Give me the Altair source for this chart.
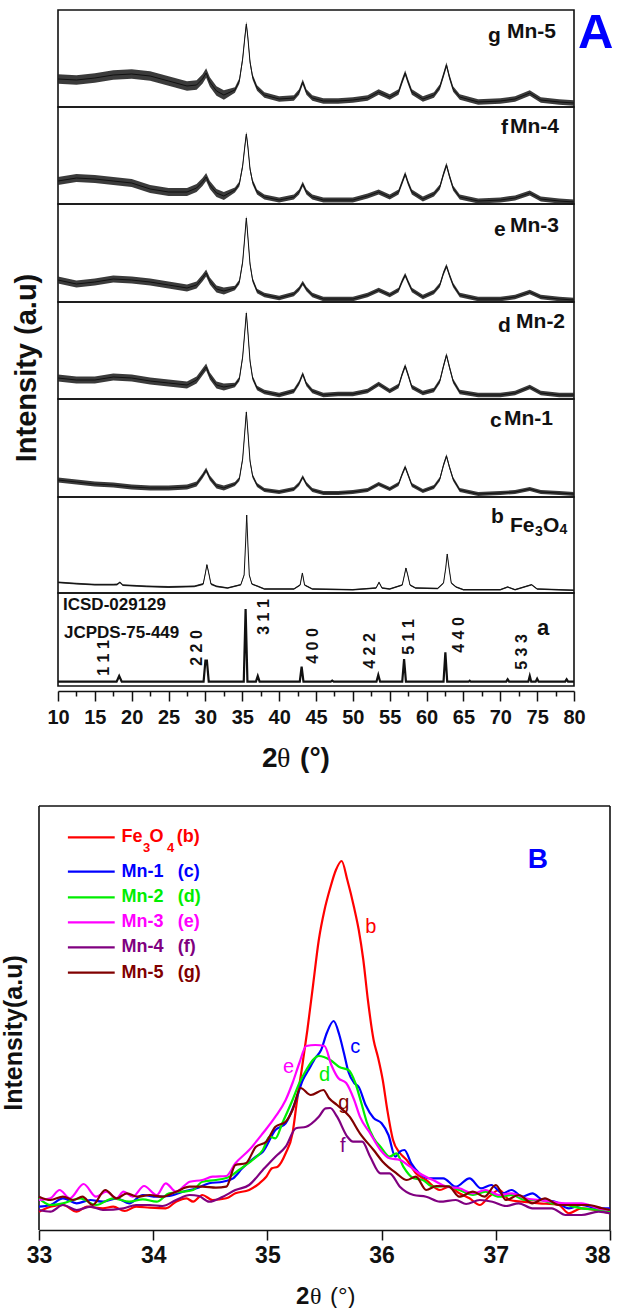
import altair as alt
import pandas as pd

SANS = "Liberation Sans"
SERIF = "Liberation Serif"
INK = "#111111"

# ---------------------------------------------------------------------------
# Panel A: stacked XRD patterns, 2θ = 10–80°, intensities in panel units
# ---------------------------------------------------------------------------
two_theta = [10, 12.5, 15, 17.5, 20, 22.5, 25, 27.5, 28.8, 29.6, 30.1, 30.6,
             31.5, 32.5, 34, 34.6, 35.05, 35.35, 35.55, 35.75, 36.05, 36.4,
             37, 38, 40, 42, 42.7, 43.2, 43.7, 44.5, 46, 48, 50, 52, 53.5, 55,
             56.2, 56.7, 57.1, 57.5, 58, 59.5, 61, 61.8, 62.3, 62.7, 63.1,
             63.6, 64.5, 67, 70, 72, 74, 75.5, 78, 80]

mn5_xrd = [28, 27, 29, 32, 33, 31, 26, 21, 22, 28, 34, 25, 16, 12, 17, 26,
           48, 70, 83, 70, 45, 30, 19, 12, 8, 9, 15, 25, 15, 9, 6, 6, 7, 9,
           15, 10, 15, 26, 34, 25, 15, 8, 12, 20, 32, 42, 30, 18, 10, 5, 6,
           8, 14, 7, 5, 4]
mn4_xrd = [23, 26, 25, 23, 21, 15, 12, 12, 16, 22, 27, 19, 11, 8, 14, 20,
           38, 58, 70, 58, 35, 22, 12, 7, 4, 7, 12, 20, 12, 7, 4, 4, 4, 8,
           12, 7, 12, 22, 30, 21, 12, 5, 10, 17, 30, 39, 28, 16, 7, 3, 4, 6,
           11, 5, 3, 2]
mn3_xrd = [22, 18, 20, 23, 22, 20, 17, 14, 17, 24, 29, 21, 13, 11, 14, 20,
           40, 66, 84, 66, 38, 22, 11, 7, 4, 8, 13, 19, 13, 7, 3, 3, 3, 7,
           12, 7, 12, 21, 27, 20, 12, 5, 10, 17, 29, 36, 27, 17, 7, 3, 3, 5,
           10, 5, 3, 2]
mn2_xrd = [21, 19, 19, 22, 21, 18, 16, 14, 19, 27, 32, 23, 14, 12, 14, 20,
           42, 68, 86, 68, 38, 21, 11, 7, 4, 8, 16, 25, 15, 8, 4, 5, 5, 8,
           15, 8, 13, 25, 33, 24, 12, 6, 9, 18, 33, 44, 32, 18, 7, 4, 4, 6,
           12, 6, 4, 4]
mn1_xrd = [17, 15, 13, 12, 10, 9, 9, 10, 13, 21, 27, 19, 11, 9, 13, 18, 38,
           66, 85, 66, 36, 21, 12, 7, 5, 8, 13, 20, 13, 7, 4, 4, 5, 7, 13, 8,
           13, 23, 30, 22, 12, 6, 10, 18, 32, 41, 30, 18, 7, 3, 4, 5, 8, 5,
           4, 3]

fe3o4_xrd = [(10, 10.7), (12.5, 9.3), (15, 8.3), (17.5, 8.3), (18.0, 8.5),
             (18.4, 10.7), (18.8, 7.8), (22, 6.7), (25, 6), (28.5, 6.7),
             (29.7, 9), (30.0, 20), (30.2, 28.3), (30.45, 20), (30.75, 9),
             (31.5, 6.7), (33, 5), (34.8, 8.3), (35.25, 18), (35.45, 50),
             (35.6, 78), (35.75, 50), (35.95, 18), (36.3, 9), (37.1, 6.7),
             (38, 4), (42, 4), (42.85, 8), (43.15, 20), (43.45, 8), (44.5, 4),
             (50, 3.3), (53.15, 5), (53.55, 10.7), (53.95, 5), (55, 4),
             (56.7, 8), (57.0, 18), (57.2, 25), (57.45, 18), (57.75, 8),
             (58.5, 5), (61.5, 4.5), (62.3, 10), (62.6, 25), (62.8, 39),
             (63.05, 25), (63.35, 10), (64, 6), (65, 3.3), (70, 3.3), (71, 6),
             (72, 3.3), (74.25, 8.3), (75, 4), (80, 2.7)]

icsd_ref = [(10, 4.3), (17.95, 4.3), (18.3, 10), (18.65, 4.3), (29.75, 4.3),
            (30.0, 25.3), (30.2, 25.3), (30.45, 4.3), (35.2, 4.3),
            (35.45, 77), (35.7, 4.3), (36.85, 4.3), (37.1, 10), (37.35, 4.3),
            (42.8, 4.3), (43.05, 19.3), (43.3, 4.3), (47.0, 4.3), (47.2, 5.3),
            (47.4, 4.3), (53.2, 4.3), (53.45, 11), (53.7, 4.3), (56.7, 4.3),
            (56.95, 27), (57.2, 4.3), (62.3, 4.3), (62.55, 33.7), (62.8, 4.3),
            (65.7, 4.3), (65.85, 5.3), (66.0, 4.3), (70.8, 4.3), (71.0, 6.7),
            (71.2, 4.3), (73.8, 4.3), (74.0, 10), (74.2, 4.3), (74.8, 4.3),
            (75.0, 7.3), (75.2, 4.3), (78.8, 4.3), (79.0, 6.7), (79.2, 4.3),
            (80, 4.3)]

# half-width of the counting-noise band: (below 33°, above 33°)
mn5_noise = (4.8, 2.8)
mn4_noise = (4.0, 2.6)
mn3_noise = (3.4, 2.3)
mn2_noise = (3.4, 2.3)
mn1_noise = (2.6, 1.9)
fe3o4_noise = (0.9, 0.7)

hkl_text = ["1 1 1", "2 2 0", "3 1 1", "4 0 0", "4 2 2", "5 1 1", "4 4 0", "5 3 3"]

# ---------------------------------------------------------------------------
# Panel B: enlarged (311) reflection, 2θ = 33–38°
# ---------------------------------------------------------------------------
fe3o4_311 = [(33.0, 18.3), (33.1, 23.3), (33.21, 25), (33.33, 18.3), (33.42, 23.3),
             (33.56, 21.7), (33.65, 23.3), (33.75, 19), (33.85, 23.3), (33.97, 22.3),
             (34.11, 21.7), (34.2, 28.3), (34.29, 31.7), (34.35, 28.3), (34.43, 35),
             (34.52, 30), (34.64, 31.7), (34.72, 36.7), (34.84, 40), (34.93, 46.7),
             (34.99, 53.3), (35.04, 61.7), (35.09, 63.3), (35.16, 76.7), (35.22, 96.7),
             (35.26, 130), (35.30, 160), (35.35, 200), (35.40, 245), (35.45, 290),
             (35.50, 320), (35.55, 342), (35.60, 360), (35.65, 369), (35.70, 350),
             (35.76, 322), (35.80, 300), (35.84, 270), (35.88, 230), (35.93, 190),
             (35.97, 172), (36.01, 150), (36.05, 120), (36.10, 90), (36.16, 77),
             (36.22, 70), (36.30, 56.7), (36.39, 50), (36.51, 40), (36.59, 43.3),
             (36.68, 36.7), (36.77, 31.7), (36.86, 25), (36.94, 33.3), (37.03, 40),
             (37.12, 30), (37.23, 28.3), (37.38, 26.7), (37.55, 25), (37.64, 16.7),
             (37.75, 21.7), (37.87, 20), (38.0, 16.7)]
mn1_311 = [(33.0, 23.3), (33.1, 25), (33.21, 31.7), (33.33, 26.7), (33.45, 30),
           (33.56, 28.3), (33.68, 31.7), (33.79, 26.7), (33.91, 35), (34.03, 33.3),
           (34.14, 34), (34.26, 38.3), (34.38, 41.7), (34.49, 46.7), (34.61, 48.3),
           (34.70, 51.7), (34.78, 61.7), (34.9, 73.3), (34.96, 78.3), (35.07, 100),
           (35.16, 106.7), (35.25, 130), (35.31, 150), (35.36, 160), (35.42, 172),
           (35.47, 180), (35.52, 197), (35.58, 209), (35.63, 195), (35.67, 177),
           (35.71, 158), (35.76, 147), (35.8, 143), (35.86, 125), (35.93, 112),
           (36.0, 106.7), (36.06, 95), (36.12, 73.3), (36.16, 78.3), (36.2, 80),
           (36.26, 66.7), (36.33, 56.7), (36.42, 51.7), (36.54, 51.7), (36.65, 43.3),
           (36.77, 51.7), (36.87, 41.7), (36.96, 45), (37.06, 36.7), (37.14, 40),
           (37.23, 33.3), (37.32, 36.7), (37.41, 30), (37.52, 28.3), (37.64, 21.7),
           (37.75, 25), (37.9, 21.7), (38.0, 21.7)]
mn2_311 = [(33.0, 31.7), (33.1, 25), (33.21, 26.7), (33.36, 31.7), (33.5, 25),
           (33.65, 31.7), (33.79, 28.3), (33.91, 30.7), (34.03, 28.3), (34.14, 36.7),
           (34.26, 38.3), (34.35, 40), (34.43, 48.3), (34.55, 50), (34.67, 53.3),
           (34.75, 60), (34.87, 70), (34.96, 80), (35.02, 93.3), (35.07, 91.7),
           (35.13, 106.7), (35.22, 130), (35.28, 147), (35.34, 160), (35.45, 174),
           (35.55, 170), (35.63, 163), (35.71, 160), (35.77, 147), (35.82, 128),
           (35.87, 108), (35.93, 92), (35.99, 83.3), (36.07, 73.3), (36.13, 76.7),
           (36.19, 63.3), (36.28, 51.7), (36.36, 50), (36.45, 43.3), (36.57, 44),
           (36.68, 40), (36.8, 35), (36.91, 38.3), (37.03, 33.3), (37.14, 35),
           (37.26, 30), (37.38, 30), (37.49, 26.7), (37.61, 25), (37.75, 21.7),
           (37.9, 20), (38.0, 18.3)]
mn3_311 = [(33.0, 30), (33.1, 31.7), (33.18, 40), (33.27, 31.7), (33.39, 46),
           (33.5, 33.3), (33.59, 38.3), (33.68, 31.7), (33.74, 38.3), (33.82, 33.3),
           (33.92, 44), (34.03, 35), (34.11, 46.7), (34.2, 38.3), (34.32, 48.3),
           (34.43, 50), (34.52, 53.3), (34.64, 54), (34.72, 66.7), (34.84, 80),
           (34.96, 96.7), (35.07, 113.3), (35.16, 130), (35.22, 147), (35.28, 167),
           (35.34, 184), (35.42, 185), (35.5, 184), (35.56, 165), (35.62, 152),
           (35.69, 147), (35.76, 130), (35.81, 113.3), (35.9, 96.7), (35.99, 80),
           (36.07, 71.7), (36.16, 70), (36.25, 63.3), (36.33, 56.7), (36.45, 50),
           (36.57, 43.3), (36.68, 41.7), (36.8, 36.7), (36.91, 40), (37.03, 35),
           (37.14, 36.7), (37.26, 31.7), (37.38, 30), (37.49, 28.3), (37.61, 26.7),
           (37.75, 26.7), (37.9, 21.7), (38.0, 20)]
mn4_311 = [(33.0, 20), (33.1, 18.3), (33.21, 25), (33.33, 20), (33.45, 23.3),
           (33.56, 20), (33.74, 21.7), (33.85, 25), (33.97, 25), (34.08, 24),
           (34.2, 30), (34.32, 35), (34.4, 34), (34.49, 28.3), (34.61, 33.3),
           (34.72, 40), (34.84, 45), (34.96, 60), (35.07, 73.3), (35.16, 83.3),
           (35.25, 101.7), (35.34, 103.3), (35.45, 113.3), (35.51, 121.7),
           (35.55, 122), (35.61, 113.3), (35.70, 93.3), (35.75, 88.3), (35.83, 88.3),
           (35.9, 73.3), (35.99, 56.7), (36.07, 56.7), (36.16, 43.3), (36.28, 35),
           (36.39, 33.3), (36.51, 28.3), (36.65, 30), (36.74, 26), (36.86, 30),
           (36.97, 28.3), (37.09, 24), (37.2, 26.7), (37.32, 21.7), (37.49, 21.7),
           (37.61, 15), (37.75, 15), (37.9, 18.3), (38.0, 16.7)]
mn5_311 = [(33.0, 33.3), (33.1, 30), (33.21, 33.3), (33.3, 30), (33.38, 33.3),
           (33.47, 25), (33.58, 40), (33.68, 31.7), (33.77, 36.7), (33.86, 33.3),
           (33.97, 35), (34.08, 33.3), (34.2, 38.3), (34.32, 43.3), (34.43, 43.3),
           (34.55, 42.3), (34.64, 43.3), (34.72, 65), (34.81, 66.7), (34.9, 83.3),
           (34.99, 88.3), (35.07, 103.3), (35.16, 108.3), (35.22, 120), (35.29, 142),
           (35.38, 135), (35.49, 140), (35.54, 131.7), (35.61, 125), (35.72, 113.3),
           (35.81, 96.7), (35.93, 80), (36.01, 68.3), (36.13, 56.7), (36.22, 50),
           (36.3, 53.3), (36.39, 40), (36.48, 44), (36.59, 43.3), (36.68, 33.3),
           (36.8, 38.3), (36.9, 33.3), (37.0, 45), (37.09, 30), (37.2, 35),
           (37.32, 26.7), (37.43, 31.7), (37.55, 25), (37.67, 25), (37.81, 25),
           (37.93, 21.7), (38.0, 20)]

series_names = ["Fe3O4 (b)", "Mn-1 (c)", "Mn-2 (d)", "Mn-3 (e)", "Mn-4 (f)", "Mn-5 (g)"]
series_colors = ["#FF0000", "#0000FF", "#00EE00", "#FF00FF", "#800080", "#800000"]
curve_letters = ["b", "c", "d", "e", "f", "g"]

# ---------------------------------------------------------------------------
# layout constants (pixels)
# ---------------------------------------------------------------------------
PAGE_W, PAGE_H = 617, 1308
A_W = 516
A_HEIGHTS = [97, 97, 98, 97, 98, 96, 93]      # g, f, e, d, c, b, a
B_W, B_H = 552, 424
LEFT_GUTTER, TOP_GUTTER, GAP_AB = 58, 10, 120

A_XSCALE = alt.Scale(domain=[10, 80], nice=False, zero=False)
B_XSCALE = alt.Scale(domain=[33, 38], range=[-19, B_W], nice=False, zero=False)
NO_FRAME = alt.ViewBackground(strokeOpacity=0)


def yscale(h):
    return alt.Scale(domain=[0, h], nice=False, zero=False)


def spacer_mark():
    """Invisible tiny rule, used to give the gap cell something to draw."""
    return alt.Chart(pd.DataFrame({"k": [0]})).mark_rule(
        strokeOpacity=0, strokeWidth=0.1).encode(
        x=alt.value(0), x2=alt.value(0.5), y=alt.value(0), y2=alt.value(0.5))


def texts(rows, X, ys, **mark):
    df = pd.DataFrame(rows, columns=["x", "h", "t", "size"])
    style = dict(align="left", baseline="alphabetic", font=SANS,
                 fontWeight="bold", color=INK)
    style.update(mark)
    return alt.Chart(df).mark_text(**style).encode(
        x=X, y=alt.Y("h:Q", scale=ys, axis=None), text="t:N",
        size=alt.Size("size:Q", scale=None, legend=None))


def noisy_pattern(xs, hs, noise, tags, height, extra=None):
    lo_side, hi_side = noise
    half = [lo_side if x < 33 else hi_side for x in xs]
    df = pd.DataFrame({"x": xs, "h": hs,
                       "lo": [h - s for h, s in zip(hs, half)],
                       "hi": [h + s for h, s in zip(hs, half)]})
    X = alt.X("x:Q", scale=A_XSCALE, axis=None)
    ys = yscale(height)
    base = alt.Chart(df)
    band = base.mark_area(color="#262626", opacity=0.9).encode(
        x=X, y=alt.Y("lo:Q", scale=ys, axis=None), y2="hi:Q")
    line = base.mark_line(color=INK, strokeWidth=1.0).encode(
        x=X, y=alt.Y("h:Q", scale=ys, axis=None))
    layers = [band, line, texts(tags, X, ys)]
    if extra:
        layers += extra(X, ys)
    return alt.layer(*layers).properties(width=A_W, height=height)


def split(pairs):
    return [p[0] for p in pairs], [p[1] for p in pairs]


# top panel carries the panel letter
def a_letter(X, ys):
    return [texts([[80.55, 59, "A", 49]], X, ys, color="#0000FF")]


# Mn-2 panel carries the shared intensity title
def a_ytitle(X, ys):
    return [texts([[5.8, 31, "Intensity (a.u)", 29]], X, ys,
                  angle=270, align="center", baseline="middle")]


p_g = noisy_pattern(two_theta, mn5_xrd, mn5_noise,
                    [[68.34, 65.3, "g", 21], [70.91, 68.7, "Mn-5", 21]],
                    A_HEIGHTS[0], extra=a_letter)
p_f = noisy_pattern(two_theta, mn4_xrd, mn4_noise,
                    [[70.10, 70.5, "f", 21], [71.32, 71, "Mn-4", 21]], A_HEIGHTS[1])
p_e = noisy_pattern(two_theta, mn3_xrd, mn3_noise,
                    [[69.15, 66, "e", 21], [71.32, 70, "Mn-3", 21]], A_HEIGHTS[2])
p_d = noisy_pattern(two_theta, mn2_xrd, mn2_noise,
                    [[69.69, 67, "d", 21], [72.14, 71, "Mn-2", 21]], A_HEIGHTS[3],
                    extra=a_ytitle)
p_c = noisy_pattern(two_theta, mn1_xrd, mn1_noise,
                    [[68.61, 70, "c", 21], [70.51, 72, "Mn-1", 21]], A_HEIGHTS[4])
fx, fh = split(fe3o4_xrd)
p_b = noisy_pattern(fx, fh, fe3o4_noise,
                    [[68.74, 70, "b", 21], [71.32, 61, "Fe", 21], [74.71, 57, "3", 14],
                     [75.80, 61, "O", 21], [78.03, 59, "4", 14]], A_HEIGHTS[5])

# reference pattern with hkl indices and the shared 2θ axis
REF_H = A_HEIGHTS[6]
a_ticks = [10 + 2.5 * i for i in range(29)]
a_axis = alt.Axis(
    values=a_ticks, format="d",
    labelExpr="datum.value % 5 === 0 ? datum.label : ''",
    tickSize={"condition": {"test": "datum.value % 5 === 0", "value": 10}, "value": 5},
    tickWidth=1.5, tickColor=INK, domainColor=INK, domainWidth=1.6,
    labelFont=SANS, labelFontSize=20, labelFontWeight="bold", labelColor=INK,
    labelPadding=6, labelFlush=False, labelOverlap=False, offset=5,
    grid=False, title=None)
rx, rh = split(icsd_ref)
ref_df = pd.DataFrame({"x": rx, "h": rh})
RX = alt.X("x:Q", scale=A_XSCALE, axis=a_axis)
rys = yscale(REF_H)
ref_line = alt.Chart(ref_df).mark_line(color=INK, strokeWidth=2.2).encode(
    x=RX, y=alt.Y("h:Q", scale=rys, axis=None))
hkl_at = [(16.2, 28), (28.9, 38), (37.95, 69), (44.6, 40), (52.3, 35),
          (57.6, 49), (64.4, 51), (73.0, 34)]
hkl = texts([[x, h, t, 16] for (x, h), t in zip(hkl_at, hkl_text)], RX, rys,
            angle=270, align="center", baseline="middle")
ref_tags = texts([[10.68, 76, "ICSD-029129", 17], [10.81, 48, "JCPDS-75-449", 17],
                  [74.98, 51, "a", 22], [37.68, -81, "2", 28], [42.84, -81, "(°)", 28]],
                 RX, rys)
ref_theta = texts([[39.72, -81, "θ", 28]], RX, rys, font=SERIF, fontWeight="normal")
p_a = alt.layer(ref_line, hkl, ref_tags, ref_theta).properties(width=A_W, height=REF_H)

# empty band between the two figure parts
gap = spacer_mark().properties(width=A_W, height=GAP_AB, view=NO_FRAME)

# ---------------------------------------------------------------------------
# Panel B chart
# ---------------------------------------------------------------------------
rows = []
for name, pairs in zip(series_names,
                       [fe3o4_311, mn1_311, mn2_311, mn3_311, mn4_311, mn5_311]):
    for x, h in pairs:
        rows.append({"x": x, "h": h, "s": name})
b_df = pd.DataFrame(rows)

b_axis = alt.Axis(
    values=[33 + 0.5 * i for i in range(11)], format="d",
    labelExpr="datum.value % 1 === 0 ? datum.label : ''",
    tickSize={"condition": {"test": "datum.value % 1 === 0", "value": 10}, "value": 5},
    labelAlign={"condition": {"test": "datum.value === 38", "value": "right"},
                "value": "center"},
    tickWidth=1.5, tickColor=INK, domainColor=INK, domainWidth=1.6,
    labelFont=SANS, labelFontSize=23, labelFontWeight="bold", labelColor=INK,
    labelPadding=4, labelFlush=False, labelOverlap=False,
    grid=False, title=None)
BX = alt.X("x:Q", scale=B_XSCALE, axis=b_axis)
bys = yscale(B_H)
color = alt.Color("s:N", scale=alt.Scale(domain=series_names, range=series_colors),
                  legend=None)

curves = alt.Chart(b_df).mark_line(interpolate="monotone", strokeWidth=2.2).encode(
    x=BX, y=alt.Y("h:Q", scale=bys, axis=None), color=color,
    order=alt.Order("x:Q"))

frame_df = pd.DataFrame({"x": [33, 38, 33], "x2": [33, 38, 38],
                         "h": [0, 0, B_H], "h2": [B_H, B_H, B_H]})
frame = alt.Chart(frame_df).mark_rule(color=INK, strokeWidth=1.6).encode(
    x=BX, x2="x2:Q", y=alt.Y("h:Q", scale=bys, axis=None), y2="h2:Q")

legend_rows = [392.7, 358.3, 332.7, 307.7, 282.7, 257.3]
key_df = pd.DataFrame({"x": 33.253, "x2": 33.663, "h": legend_rows, "s": series_names})
keys = alt.Chart(key_df).mark_rule(strokeWidth=2.2).encode(
    x=BX, x2="x2:Q", y=alt.Y("h:Q", scale=bys, axis=None), color=color)

key_text = []
fe_rows = [["Fe", 33.7216, 392.7, 18], ["3", 33.91, 382.5, 13], ["O", 33.9686, 392.7, 18],
           ["4", 34.12, 382.5, 13], ["(b)", 34.207, 392.7, 18]]
for t, x, h, s in fe_rows:
    key_text.append({"x": x, "h": h, "t": t, "size": s, "c": series_colors[0]})
for name, letter, h, c in zip(["Mn-1", "Mn-2", "Mn-3", "Mn-4", "Mn-5"],
                              curve_letters[1:], legend_rows[1:], series_colors[1:]):
    key_text.append({"x": 33.7216, "h": h, "t": name, "size": 18, "c": c})
    key_text.append({"x": 34.2155, "h": h, "t": f"({letter})", "size": 18, "c": c})
key_labels = alt.Chart(pd.DataFrame(key_text)).mark_text(
    align="left", baseline="middle", font=SANS, fontWeight="bold").encode(
    x=BX, y=alt.Y("h:Q", scale=bys, axis=None), text="t:N",
    size=alt.Size("size:Q", scale=None, legend=None),
    color=alt.Color("c:N", scale=None, legend=None))

letter_at = [(35.905, 303), (35.77, 183), (35.50, 155), (35.185, 163),
             (35.66, 84), (35.67, 127)]
tag_df = pd.DataFrame({"x": [p[0] for p in letter_at], "h": [p[1] for p in letter_at],
                       "t": curve_letters, "c": series_colors})
curve_tags = alt.Chart(tag_df).mark_text(
    align="center", baseline="middle", font=SANS, fontSize=20).encode(
    x=BX, y=alt.Y("h:Q", scale=bys, axis=None), text="t:N",
    color=alt.Color("c:N", scale=None, legend=None))

b_letter = texts([[37.28, 362, "B", 28]], BX, bys, color="#0000FF")
b_ytitle = texts([[32.782, 197, "Intensity(a.u)", 25]], BX, bys,
                 angle=270, align="center", baseline="middle")
b_xtitle = texts([[35.251, -74, "2", 24]], BX, bys)
b_xtitle_rest = texts([[35.373, -74, "θ", 24]], BX, bys, font=SERIF, fontWeight="normal")
b_xtitle_unit = texts([[35.548, -74, "(°)", 24]], BX, bys, fontWeight="normal")

panel_b = alt.layer(frame, curves, keys, key_labels, curve_tags, b_letter,
                    b_ytitle, b_xtitle, b_xtitle_rest, b_xtitle_unit).properties(
    width=B_W, height=B_H, view=NO_FRAME)

# fixed canvas: the view origin sits at (LEFT_GUTTER, TOP_GUTTER) and the
# remaining page area is given as right/bottom padding
chart = alt.vconcat(p_g, p_f, p_e, p_d, p_c, p_b, p_a, gap, panel_b,
                    spacing=0, bounds="flush").properties(
    autosize=alt.AutoSizeParams(type="none"),
    padding={"left": LEFT_GUTTER, "top": TOP_GUTTER,
             "right": PAGE_W - LEFT_GUTTER, "bottom": PAGE_H - TOP_GUTTER},
    background="white",
).configure_view(stroke=INK, strokeWidth=1.6)

chart.save("out.html", embed_options={"renderer": "svg", "actions": False})
